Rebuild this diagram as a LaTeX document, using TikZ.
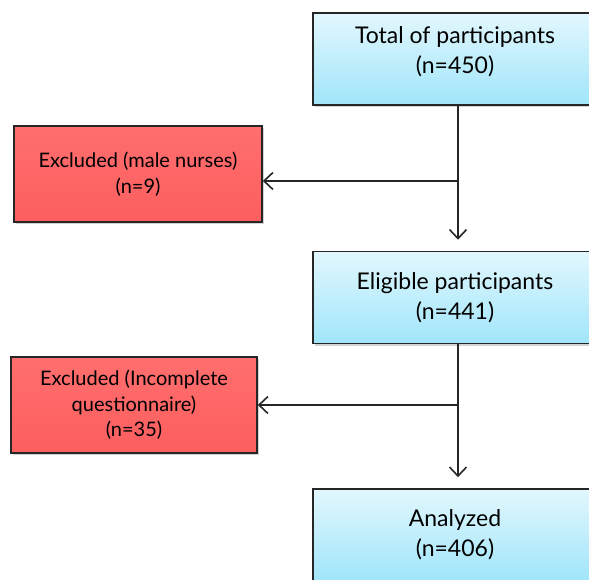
\documentclass[tikz,border=0pt]{standalone}
\usepackage{fontspec}
\setmainfont{Lato}
\usetikzlibrary{arrows.meta,shadows,positioning}

\definecolor{boxtop}{RGB}{226,247,253}
\definecolor{boxbot}{RGB}{160,229,250}
\definecolor{redtop}{RGB}{255,110,110}
\definecolor{redbot}{RGB}{252,94,94}

\begin{document}
\begin{tikzpicture}[x=1pt,y=-1pt,
    bluebox/.style={draw=black!85,line width=1.6pt,top color=boxtop,bottom color=boxbot,
        minimum width=284pt,minimum height=92pt,align=center,inner sep=0pt,
        font=\fontsize{23}{30}\selectfont,drop shadow={opacity=0.35,shadow xshift=1.5pt,shadow yshift=-2pt}},
    redbox/.style={bluebox,top color=redtop,bottom color=redbot,minimum width=248pt,minimum height=96pt,
        font=\fontsize{20}{25.5}\selectfont},
    flow/.style={line width=1.6pt,black!85,-{Straight Barb[length=9pt,width=17pt,line width=1.6pt]}}
]
\useasboundingbox (0,0) rectangle (589,579);
% main column
\node[bluebox,text depth=17pt] (total) at (455,59) {Total of participants\\(n=450)};
\node[bluebox] (eligible) at (455,297.5) {Eligible participants\\(n=441)};
\node[bluebox] (analyzed) at (455,535) {Analyzed\\(n=406)};
% exclusions
\node[redbox] (male) at (138,174) {Excluded (male nurses)\\(n=9)};
\node[redbox,minimum width=246pt] (incomplete) at (134,405) {Excluded (Incomplete\\questionnaire)\\(n=35)};
\coordinate (split1) at (458,181);
\coordinate (split2) at (458,405);
% arrows
\draw[flow,shorten >=11pt] (total.south -| split1) -- (eligible.north -| split1);
\draw[flow] (split1) -- (split1 -| male.east);
\draw[flow,shorten >=11pt] (eligible.south -| split2) -- (analyzed.north -| split2);
\draw[flow] (split2) -- (split2 -| incomplete.east);
\end{tikzpicture}
\end{document}
